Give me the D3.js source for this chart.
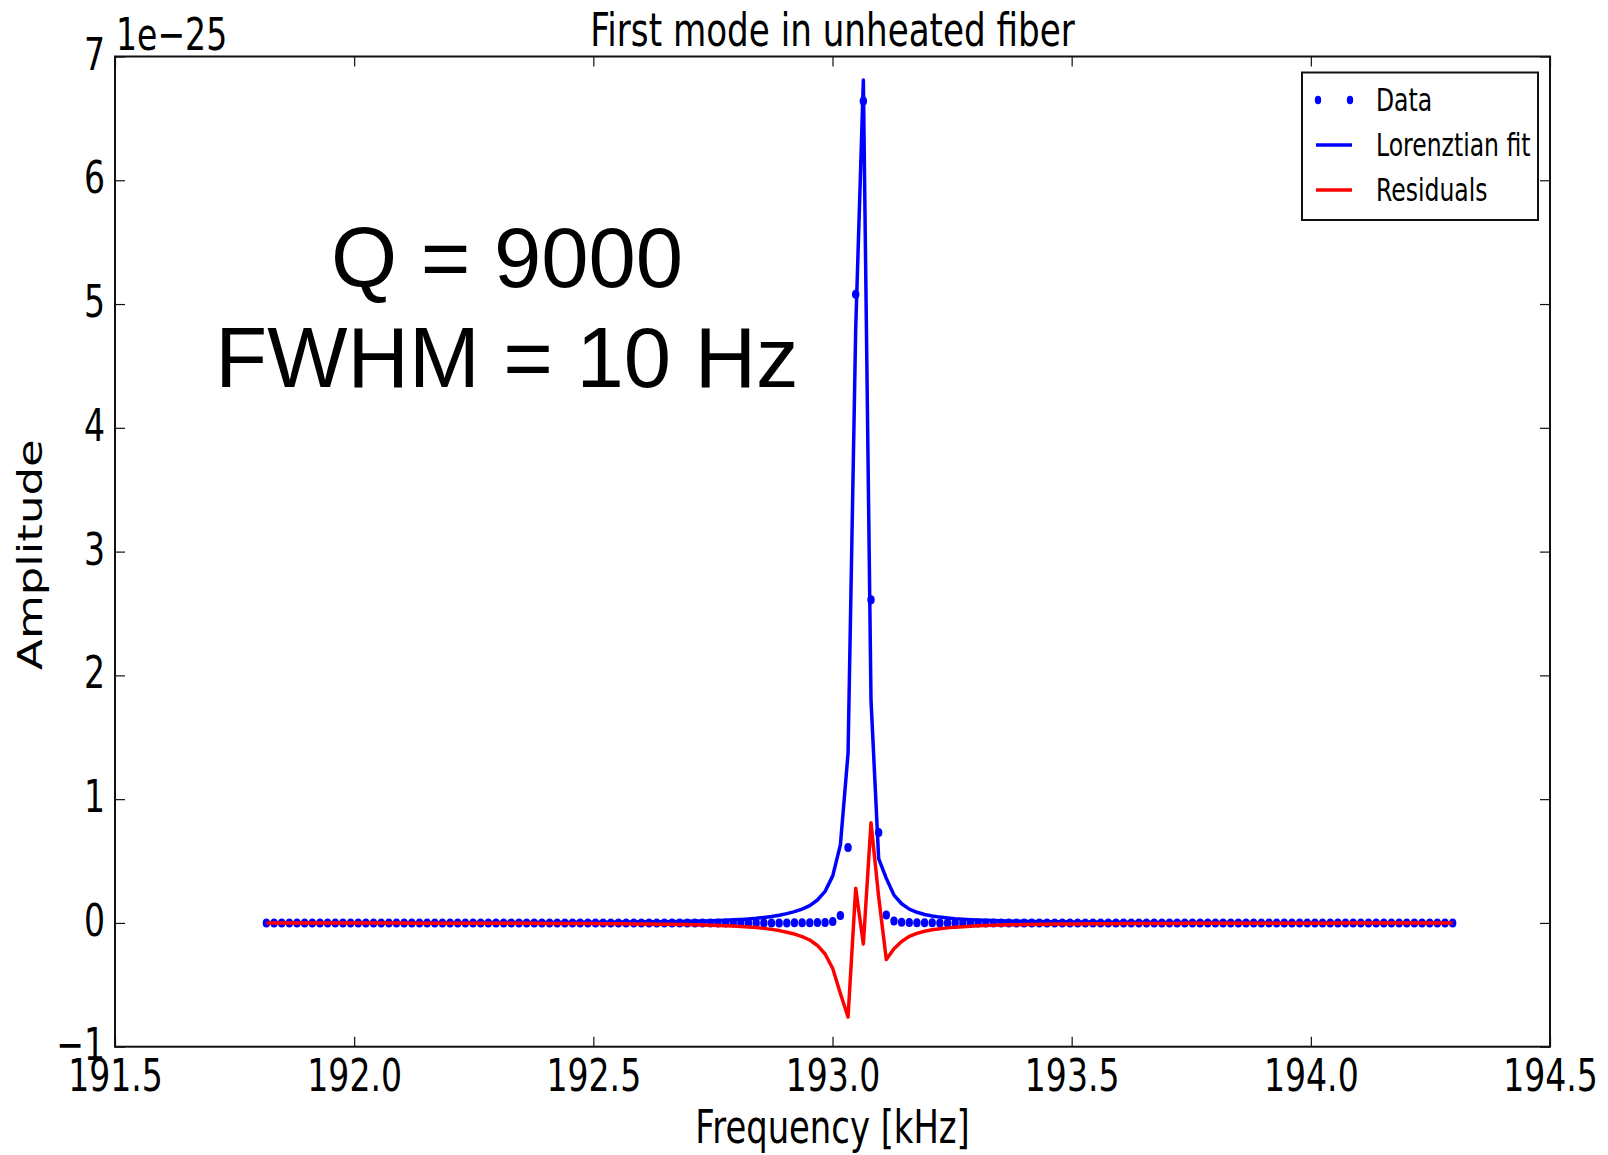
<!DOCTYPE html>
<html lang="en">
<head>
<meta charset="utf-8">
<title>First mode in unheated fiber</title>
<script src="https://cdn.jsdelivr.net/npm/d3@7"></script>
<style>
body { margin: 0; background: #fff; }
svg text { font-family: "DejaVu Sans", sans-serif; fill: #000; }
.tick line { stroke: #111; stroke-width: 1.2; }
.domain { display: none; }
.note { font-family: "Liberation Sans", Arial, sans-serif; }
</style>
</head>
<body>
<script>
// sampling grid of the measurement (kHz)
var freqStart = 191.8165, freqStep = 0.016, nPoints = 156;

// amplitudes, in units of 1e-25
var dataAmp = [
  0,0,0,0,0,0,0,0,0,0,
  0,0,0,0,0,0,0,0,0,0,
  0,0,0,0,0,0,0,0,0,0,
  0,0,0,0,0,0,0,0,0,0,
  0,0,0,0,0,0,0,0,0,0,
  0,0,0,0,0,0,0,0,0,0,
  0,0,0,0,0,0,0,0,0,0.001,
  0.001,0.002,0.003,0.004,0.012,0.06,0.61,5.08,6.64,2.61,
  0.73,0.065,0.016,0.005,0.003,0.002,0.001,0.001,0,0,
  0,0,0,0,0,0,0,0,0,0,
  0,0,0,0,0,0,0,0,0,0,
  0,0,0,0,0,0,0,0,0,0,
  0,0,0,0,0,0,0,0,0,0,
  0,0,0,0,0,0,0,0,0,0,
  0,0,0,0,0,0,0,0,0,0,
  0,0,0,0,0,0
];

var fitAmp = [
  0.001,0.001,0.001,0.0011,0.0011,0.0011,0.0011,0.0012,0.0012,0.0012,
  0.0013,0.0013,0.0013,0.0014,0.0014,0.0015,0.0015,0.0016,0.0016,0.0017,
  0.0018,0.0018,0.0019,0.002,0.0021,0.0022,0.0023,0.0024,0.0025,0.0026,
  0.0027,0.0028,0.003,0.0031,0.0033,0.0035,0.0037,0.0039,0.0041,0.0043,
  0.0045,0.0048,0.0051,0.0055,0.0059,0.0063,0.0068,0.0073,0.0079,0.0085,
  0.009,0.0097,0.0105,0.0114,0.0124,0.0135,0.0148,0.0163,0.018,0.02,
  0.022,0.025,0.028,0.032,0.037,0.044,0.052,0.062,0.075,0.091,
  0.112,0.14,0.185,0.255,0.38,0.63,1.37,4.8,6.81,1.8,
  0.52,0.36,0.225,0.155,0.112,0.086,0.068,0.056,0.047,0.04,
  0.034,0.03,0.026,0.023,0.021,0.019,0.017,0.0155,0.014,0.013,
  0.012,0.011,0.0102,0.0095,0.0089,0.0083,0.0078,0.0073,0.0068,0.0064,
  0.006,0.0057,0.0054,0.0051,0.0048,0.0046,0.0043,0.0041,0.0039,0.0037,
  0.0035,0.0034,0.0032,0.0031,0.003,0.0028,0.0027,0.0026,0.0025,0.0024,
  0.0023,0.0022,0.0022,0.0021,0.002,0.0019,0.0019,0.0018,0.0018,0.0017,
  0.0016,0.0016,0.0015,0.0015,0.0015,0.0014,0.0014,0.0013,0.0013,0.0013,
  0.0012,0.0012,0.0012,0.0011,0.0011,0.0011
];

var resAmp = [
  -0.001,-0.001,-0.001,-0.0011,-0.0011,-0.0011,-0.0011,-0.0012,-0.0012,-0.0012,
  -0.0013,-0.0013,-0.0013,-0.0014,-0.0014,-0.0015,-0.0015,-0.0016,-0.0016,-0.0017,
  -0.0018,-0.0018,-0.0019,-0.002,-0.0021,-0.0022,-0.0023,-0.0024,-0.0025,-0.0026,
  -0.0027,-0.0028,-0.003,-0.0031,-0.0033,-0.0035,-0.0037,-0.0039,-0.0041,-0.0043,
  -0.0045,-0.0048,-0.0051,-0.0055,-0.0059,-0.0063,-0.0068,-0.0073,-0.0079,-0.0085,
  -0.009,-0.0097,-0.0105,-0.0114,-0.0124,-0.0135,-0.0148,-0.0163,-0.018,-0.02,
  -0.022,-0.025,-0.028,-0.032,-0.037,-0.044,-0.052,-0.062,-0.075,-0.09,
  -0.111,-0.138,-0.182,-0.251,-0.368,-0.57,-0.76,0.28,-0.17,0.81,
  0.21,-0.295,-0.209,-0.15,-0.109,-0.084,-0.067,-0.055,-0.047,-0.04,
  -0.034,-0.03,-0.026,-0.023,-0.021,-0.019,-0.017,-0.0155,-0.014,-0.013,
  -0.012,-0.011,-0.0102,-0.0095,-0.0089,-0.0083,-0.0078,-0.0073,-0.0068,-0.0064,
  -0.006,-0.0057,-0.0054,-0.0051,-0.0048,-0.0046,-0.0043,-0.0041,-0.0039,-0.0037,
  -0.0035,-0.0034,-0.0032,-0.0031,-0.003,-0.0028,-0.0027,-0.0026,-0.0025,-0.0024,
  -0.0023,-0.0022,-0.0022,-0.0021,-0.002,-0.0019,-0.0019,-0.0018,-0.0018,-0.0017,
  -0.0016,-0.0016,-0.0015,-0.0015,-0.0015,-0.0014,-0.0014,-0.0013,-0.0013,-0.0013,
  -0.0012,-0.0012,-0.0012,-0.0011,-0.0011,-0.0011
];

var xTicks = [191.5, 192.0, 192.5, 193.0, 193.5, 194.0, 194.5];
var yTicks = [-1, 0, 1, 2, 3, 4, 5, 6, 7];
var seriesNames = ['Data', 'Lorenztian fit', 'Residuals'];
var noteLines = ['Q = 9000', 'FWHM = 10 Hz'];

// layout
var W = 1608, H = 1155;
var margin = { top: 56.5, right: 58, bottom: 108.3, left: 115 };
var plotW = W - margin.left - margin.right,
    plotH = H - margin.top - margin.bottom;
var squish = 0.735; // original figure was squeezed horizontally

var freqs = d3.range(nPoints).map(function(i) { return freqStart + i * freqStep; });

var svg = d3.select('body').append('svg')
    .attr('width', W)
    .attr('height', H);

svg.append('rect').attr('width', W).attr('height', H).attr('fill', '#fff');

var x = d3.scaleLinear().domain([191.5, 194.5]).range([margin.left, margin.left + plotW]);
var y = d3.scaleLinear().domain([-1, 7]).range([margin.top + plotH, margin.top]);

function label(txt, px, py, size, anchor, rot) {
    return svg.append('text')
        .attr('transform', 'translate(' + px + ',' + py + ') scale(' + squish + ',1)' + (rot ? ' rotate(' + rot + ')' : ''))
        .attr('text-anchor', anchor)
        .style('font-size', size + 'px')
        .text(txt);
}

//axes, ticks pointing inwards on all four sides
var gx = svg.append('g')
    .attr('transform', 'translate(0,' + (margin.top + plotH) + ')')
    .call(d3.axisBottom(x).tickValues(xTicks).tickFormat(d3.format('.1f'))
        .tickSizeInner(-10).tickSizeOuter(0).tickPadding(12));
gx.selectAll('text')
    .style('font-size', '45px')
    .attr('transform', 'scale(' + squish + ',1)');

var gy = svg.append('g')
    .attr('transform', 'translate(' + margin.left + ',0)')
    .call(d3.axisLeft(y).tickValues(yTicks).tickFormat(d3.format('d'))
        .tickSizeInner(-10).tickSizeOuter(0).tickPadding(13.5));
gy.selectAll('text')
    .style('font-size', '45px')
    .attr('dy', '0.28em')
    .attr('transform', 'scale(' + squish + ',1)');

svg.append('g')
    .attr('transform', 'translate(0,' + margin.top + ')')
    .call(d3.axisTop(x).tickValues(xTicks).tickFormat('').tickSizeInner(-10).tickSizeOuter(0));

svg.append('g')
    .attr('transform', 'translate(' + (margin.left + plotW) + ',0)')
    .call(d3.axisRight(y).tickValues(yTicks).tickFormat('').tickSizeInner(-10).tickSizeOuter(0));

svg.selectAll('.tick text').style('fill', '#000');

//data points
svg.append('g').selectAll('ellipse')
    .data(dataAmp)
    .enter()
    .append('ellipse')
    .attr('cx', function(d, i) { return x(freqs[i]); })
    .attr('cy', function(d) { return y(d); })
    .attr('rx', 3.7)
    .attr('ry', 4.5)
    .attr('fill', '#0000ff');

var line = d3.line()
    .x(function(d, i) { return x(freqs[i]); })
    .y(function(d) { return y(d); });

svg.append('path')
    .datum(fitAmp)
    .attr('d', line)
    .attr('fill', 'none')
    .attr('stroke', '#0000ff')
    .attr('stroke-width', 3.5)
    .attr('stroke-linejoin', 'round');

svg.append('path')
    .datum(resAmp)
    .attr('d', line)
    .attr('fill', 'none')
    .attr('stroke', '#ff0000')
    .attr('stroke-width', 3.5)
    .attr('stroke-linejoin', 'round');

//frame
svg.append('rect')
    .attr('x', margin.left)
    .attr('y', margin.top)
    .attr('width', plotW)
    .attr('height', plotH)
    .attr('fill', 'none')
    .attr('stroke', '#111')
    .attr('stroke-width', 2);

//texts
label('First mode in unheated fiber', margin.left + plotW / 2, 46, 46.5, 'middle');
label('1e\u221225', 116, 50, 45, 'start');
label('Frequency [kHz]', margin.left + plotW / 2, 1143, 46, 'middle');
label('Amplitude', 41.5, margin.top + plotH / 2 + 3, 45, 'middle', -90);

//annotation
svg.selectAll('.note')
    .data(noteLines)
    .enter()
    .append('text')
    .attr('class', 'note')
    .attr('x', 507)
    .attr('y', function(d, i) { return 287 + i * 100; })
    .attr('text-anchor', 'middle')
    .style('font-size', '85px')
    .text(function(d) { return d; });

//legend
var lg = svg.append('g').attr('transform', 'translate(1302,72.5)');
lg.append('rect')
    .attr('width', 236)
    .attr('height', 147.5)
    .attr('fill', '#fff')
    .attr('stroke', '#111')
    .attr('stroke-width', 2);

var rows = lg.selectAll('g.row')
    .data(seriesNames)
    .enter()
    .append('g')
    .attr('class', 'row')
    .attr('transform', function(d, i) { return 'translate(0,' + (27.5 + i * 45) + ')'; });

rows.filter(function(d, i) { return i === 0; })
    .selectAll('ellipse')
    .data([16, 48])
    .enter()
    .append('ellipse')
    .attr('cx', function(d) { return d; })
    .attr('cy', 0)
    .attr('rx', 3.2)
    .attr('ry', 4.2)
    .attr('fill', '#0000ff');

rows.filter(function(d, i) { return i > 0; })
    .append('line')
    .attr('x1', 14)
    .attr('x2', 50)
    .attr('stroke', function(d, i) { return i === 0 ? '#0000ff' : '#ff0000'; })
    .attr('stroke-width', 3.5);

rows.append('text')
    .attr('transform', 'translate(74,10.5) scale(' + squish + ',1)')
    .style('font-size', '32px')
    .text(function(d) { return d; });
</script>
</body>
</html>
